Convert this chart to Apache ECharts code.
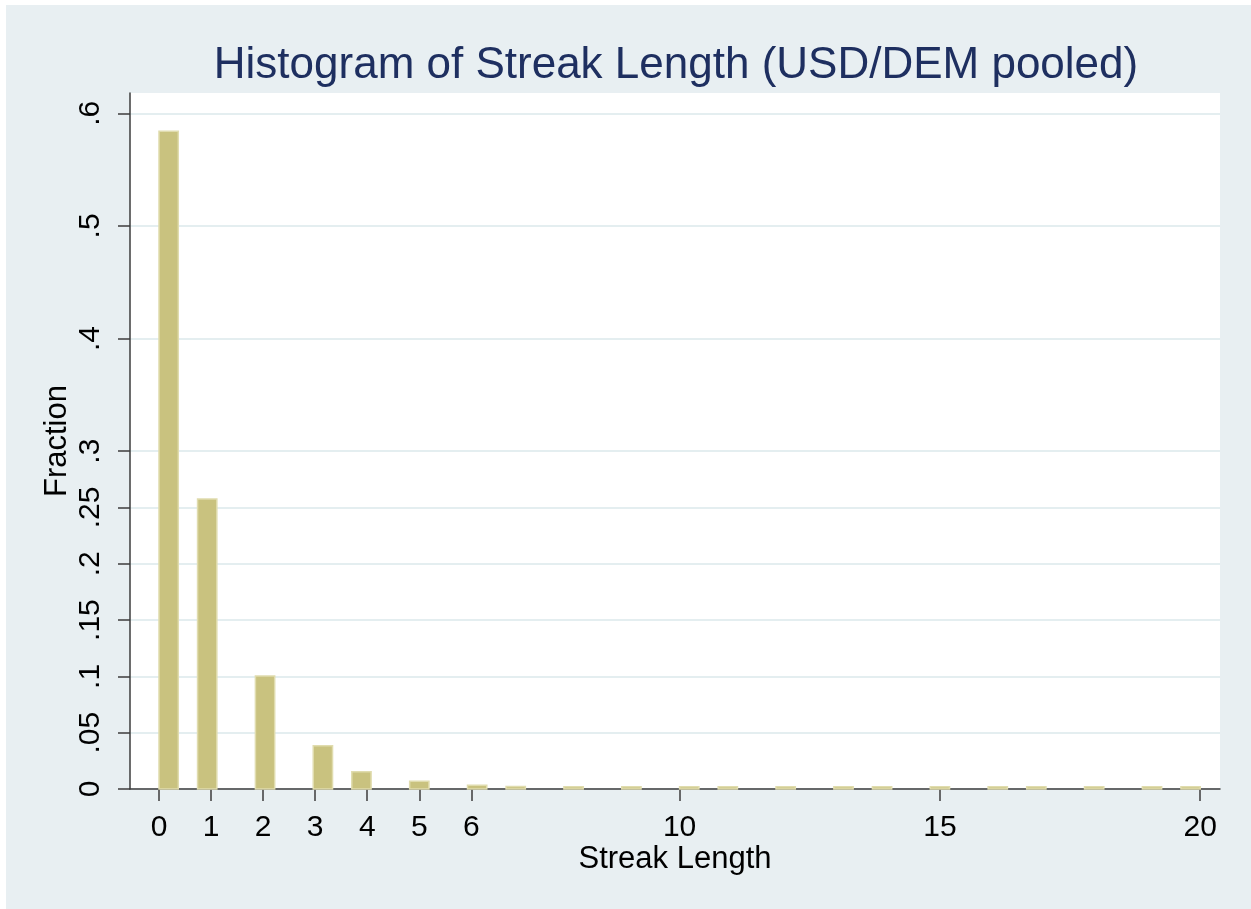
<!DOCTYPE html>
<html>
<head>
<meta charset="utf-8">
<script src="https://cdn.jsdelivr.net/npm/echarts@6/dist/echarts.min.js"></script>
<style>
  html, body { margin: 0; padding: 0; background: #ffffff; }
  #chart { position: absolute; left: 6px; top: 5px; width: 1245px; height: 904px; }
</style>
</head>
<body>
<div id="chart"></div>
<script>
// ---- data ----
const streakLengths = [0, 1, 2, 3, 4, 5, 6, 7, 8, 9, 10, 11, 12, 13, 14, 15, 16, 17, 18, 19, 20];
const fractions = [0.584, 0.2575, 0.1003, 0.0385, 0.0154, 0.0068, 0.0033, 0.0022, 0.002, 0.002, 0.002,
                   0.002, 0.002, 0.002, 0.002, 0.002, 0.002, 0.002, 0.002, 0.002, 0.002];
const binCount = 54;
const binRange = [0, 20];
const xTickValues = [0, 1, 2, 3, 4, 5, 6, 10, 15, 20];
const yTickValues = [0, 0.05, 0.1, 0.15, 0.2, 0.25, 0.3, 0.4, 0.5, 0.6];
const yTickLabels = ['0', '.05', '.1', '.15', '.2', '.25', '.3', '.4', '.5', '.6'];
const titleText = 'Histogram of Streak Length (USD/DEM pooled)';
const xName = 'Streak Length';
const yName = 'Fraction';

// ---- bins ----
const binWidth = (binRange[1] - binRange[0]) / binCount;
const barData = streakLengths.map(function (v, i) {
  let k = Math.floor((v - binRange[0]) / binWidth + 1e-9);
  if (k >= binCount) k = binCount - 1;
  const lo = binRange[0] + k * binWidth;
  return [lo, lo + binWidth, fractions[i]];
});

const FONT = '"Liberation Sans", Arial, sans-serif';
const chart = echarts.init(document.getElementById('chart'));
chart.setOption({
  backgroundColor: '#e8eff2',
  animation: false,
  title: {
    text: titleText,
    left: 665,
    textAlign: 'center',
    top: 34,
    textStyle: { fontFamily: FONT, fontSize: 44, fontWeight: 'normal', color: '#1e2f60' }
  },
  grid: { left: 124, right: 31, top: 88, bottom: 120, show: true, backgroundColor: '#ffffff', borderWidth: 0 },
  xAxis: {
    type: 'value',
    min: -0.557,
    max: 20.38,
    name: xName,
    nameLocation: 'middle',
    nameGap: 55,
    nameMoveOverlap: false,
    nameTextStyle: { fontFamily: FONT, fontSize: 31, color: '#000' },
    axisLine: { show: true, onZero: false, lineStyle: { color: '#3c3c3c', width: 1.5 } },
    axisTick: { show: true, customValues: xTickValues, length: 12, inside: false, lineStyle: { color: '#3c3c3c', width: 1.5 } },
    axisLabel: { customValues: xTickValues, margin: 24, fontFamily: FONT, fontSize: 30, color: '#000' },
    splitLine: { show: false }
  },
  yAxis: {
    type: 'value',
    min: 0,
    max: 0.618,
    name: yName,
    nameLocation: 'middle',
    nameGap: 57,
    nameMoveOverlap: false,
    nameRotate: 90,
    nameTextStyle: { fontFamily: FONT, fontSize: 31, color: '#000' },
    axisLine: { show: true, onZero: false, lineStyle: { color: '#3c3c3c', width: 1.5 } },
    axisTick: { show: true, customValues: yTickValues, length: 12, inside: false, lineStyle: { color: '#3c3c3c', width: 1.5 } },
    axisLabel: {
      customValues: yTickValues,
      rotate: 90,
      margin: 24,
      fontFamily: FONT, fontSize: 30, color: '#000',
      formatter: function (v) {
        const idx = yTickValues.findIndex(function (t) { return Math.abs(t - v) < 1e-9; });
        return idx >= 0 ? yTickLabels[idx] : '';
      }
    },
    splitLine: { show: true, lineStyle: { color: '#e4eef0', width: 2 } }
  },
  series: [{
    type: 'custom',
    data: barData,
    renderItem: function (params, api) {
      const p0 = api.coord([api.value(0), 0]);
      const p1 = api.coord([api.value(1), api.value(2)]);
      return {
        type: 'rect',
        shape: { x: p0[0], y: p1[1], width: p1[0] - p0[0], height: p0[1] - p1[1] },
        style: { fill: '#c9c27f', stroke: '#e0dcae', lineWidth: 1.5 }
      };
    }
  }]
});
</script>
</body>
</html>
